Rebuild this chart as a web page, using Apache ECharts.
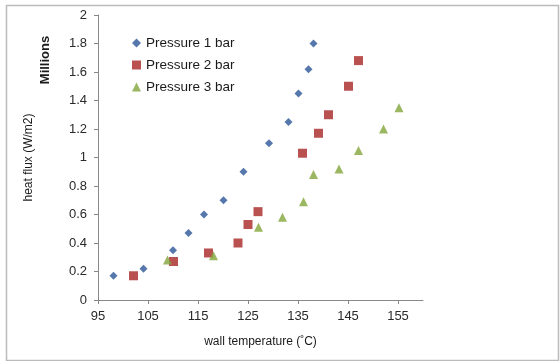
<!DOCTYPE html>
<html>
<head>
<meta charset="utf-8">
<script src="https://cdn.jsdelivr.net/npm/echarts@6/dist/echarts.min.js"></script>
<style>html,body{margin:0;padding:0;background:#fff}#c{width:560px;height:361px}</style>
</head>
<body>
<div id="c"></div>
<script>
const seriesNames = ['Pressure 1 bar', 'Pressure 2 bar', 'Pressure 3 bar'];
const p1Temp = [98.1, 104.1, 110.0, 113.1, 116.2, 120.1, 124.1, 129.2, 133.1, 135.1, 137.1, 138.1];
const p1Flux = [0.17, 0.22, 0.35, 0.47, 0.60, 0.70, 0.90, 1.10, 1.25, 1.45, 1.62, 1.80];
const p2Temp = [102.1, 110.1, 117.1, 123.0, 125.0, 127.0, 135.9, 139.1, 141.1, 145.1, 147.1];
const p2Flux = [0.17, 0.27, 0.33, 0.40, 0.53, 0.62, 1.03, 1.17, 1.30, 1.50, 1.68];
const p3Temp = [108.9, 118.1, 127.1, 131.9, 136.1, 138.1, 143.2, 147.1, 152.1, 155.2];
const p3Flux = [0.28, 0.31, 0.51, 0.58, 0.69, 0.88, 0.92, 1.05, 1.20, 1.35];
const xTicks = [95, 105, 115, 125, 135, 145, 155];

const zip = (a, b) => a.map((v, i) => [v, b[i]]);
const font = 'Liberation Sans, Arial, sans-serif';
const chart = echarts.init(document.getElementById('c'), null, {renderer: 'canvas'});
chart.setOption({
  animation: false,
  backgroundColor: '#fff',
  textStyle: {fontFamily: font},
  grid: {left: 98, top: 15, width: 325, height: 285, containLabel: false},
  legend: {
    orient: 'vertical', left: 127, top: 31, itemGap: 8, itemWidth: 9, itemHeight: 9,
    textStyle: {fontSize: 13.5, color: '#1a1a1a', fontFamily: font},
    data: [
      {name: seriesNames[0], icon: 'diamond'},
      {name: seriesNames[1], icon: 'rect'},
      {name: seriesNames[2], icon: 'triangle'}
    ]
  },
  xAxis: {
    type: 'value', min: 95, max: 160,
    name: 'wall temperature (˚C)', nameLocation: 'middle', nameGap: 36,
    nameTextStyle: {fontSize: 12, color: '#1a1a1a', fontFamily: font},
    axisLine: {show: true, lineStyle: {color: '#888'}},
    axisTick: {show: true, length: 4, customValues: xTicks, lineStyle: {color: '#888'}},
    axisLabel: {customValues: xTicks, fontSize: 13, color: '#2a2a2a', margin: 10},
    splitLine: {show: false}
  },
  yAxis: {
    type: 'value', min: 0, max: 2, interval: 0.2,
    name: 'heat flux (W/m2)', nameLocation: 'middle', nameGap: 63, nameRotate: 90,
    nameTextStyle: {fontSize: 12, color: '#1a1a1a', fontFamily: font},
    axisLine: {show: true, lineStyle: {color: '#888'}},
    axisTick: {show: true, length: 4, lineStyle: {color: '#888'}},
    axisLabel: {fontSize: 13, color: '#2a2a2a', margin: 11,
      formatter: v => String(Math.round(v * 10) / 10)},
    splitLine: {show: false}
  },
  graphic: [
    {type: 'rect', left: 4, top: 3, shape: {width: 552, height: 355},
     style: {fill: 'none', stroke: '#bbb', lineWidth: 1.5}, silent: true},
    {type: 'text', x: 45, y: 60, rotation: Math.PI / 2,
     style: {text: 'Millions', font: 'bold 13px ' + font, fill: '#1a1a1a',
             textAlign: 'center', textVerticalAlign: 'middle'}}
  ],
  series: [
    {name: seriesNames[0], type: 'scatter', symbol: 'diamond', symbolSize: 8,
     itemStyle: {color: '#2A5597'}, data: zip(p1Temp, p1Flux)},
    {name: seriesNames[1], type: 'scatter', symbol: 'rect', symbolSize: 9,
     itemStyle: {color: '#A82626'}, data: zip(p2Temp, p2Flux)},
    {name: seriesNames[2], type: 'scatter', symbol: 'triangle', symbolSize: 9,
     itemStyle: {color: '#82A53A'}, data: zip(p3Temp, p3Flux)}
  ]
});
</script>
</body>
</html>
